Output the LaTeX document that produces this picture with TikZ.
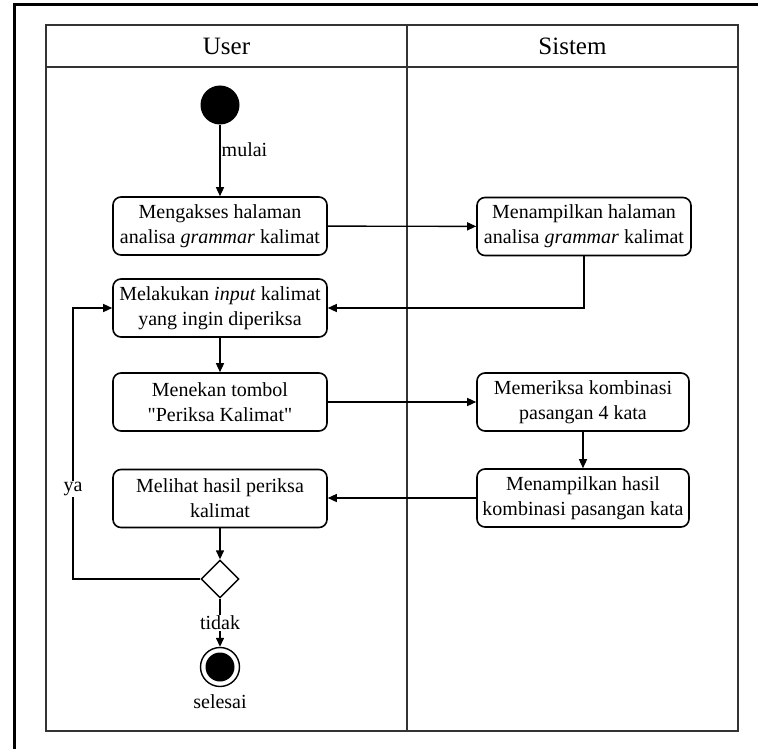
\documentclass[tikz,border=0pt]{standalone}
\usepackage{fontspec}
\setmainfont{Liberation Serif}
% same face without TeX ligatures, for straight double quotes
\newfontfamily\straightq{Liberation Serif}
\newcommand{\dq}{{\straightq"}}
\usetikzlibrary{shapes.geometric,arrows.meta}
\begin{document}
\begin{tikzpicture}[x=1pt,y=-1pt,
  txt/.style={font=\fontsize{20}{25}\selectfont},
  action/.style={txt, draw, line width=1.6pt, rounded corners=8pt, fill=white,
    minimum width=214pt, minimum height=58pt, align=center, inner sep=2pt},
  lane/.style={draw=black!80, line width=2pt},
  flow/.style={line width=1.4pt, -{Triangle[length=9pt,width=8pt]}},
  lbl/.style={txt, inner sep=1pt},
  decision/.style={diamond, draw, line width=1.4pt, fill=white, inner sep=0pt,
    minimum width=38pt, minimum height=38pt, shape aspect=1}
]
\useasboundingbox (0,0) rectangle (758,749);

% outer page frame
\draw[line width=3pt] (14,749) -- (14,5) -- (758,5);

% swimlanes
\draw[lane] (46,25) rectangle (738,731);
\draw[lane] (46,67) -- (738,67);
\draw[lane] (407,25) -- (407,731);
\node[font=\fontsize{25}{30}\selectfont] (hUser) at (226.5,46) {User};
\node[font=\fontsize{25}{30}\selectfont] (hSistem) at (572.5,46) {Sistem};

% start
\node[circle, fill=black, minimum size=39pt, inner sep=0pt] (start) at (220,105) {};

% user actions
\node[action] (b1) at (220,226) {Mengakses halaman\\analisa \textit{grammar} kalimat};
\node[action] (b2) at (220,308) {Melakukan \textit{input} kalimat\\yang ingin diperiksa};
\node[action] (b3) at (220,402) {Menekan tombol\\\dq Periksa Kalimat\dq};
\node[action] (b4) at (220,498.5) {Melihat hasil periksa\\kalimat};

% system actions
\node[action] (s1) at (584,226.5) {Menampilkan halaman\\analisa \textit{grammar} kalimat};
\node[action, minimum width=212pt] (s2) at (583,402) {Memeriksa kombinasi\\pasangan 4 kata};
\node[action, minimum width=212pt] (s3) at (583,498) {Menampilkan hasil\\kombinasi pasangan kata};

% decision and end
\node[decision] (d) at (220,579) {};
\node[circle, draw, line width=1.4pt, minimum size=39pt, inner sep=0pt] (end) at (220,667) {};
\fill (end.center) circle (14.5);
\node[lbl] (selesai) at (220,702) {selesai};

% flows
\draw[flow] (start) -- node[lbl, pos=0.35, right] {mulai} (b1);
\draw[flow] (b1) -- (s1);
\draw[flow] (s1.south) |- (b2.east);
\draw[flow] (b2) -- (b3);
\draw[flow] (b3.east) -- (s2.west |- b3.east);
\draw[flow] (s2.south) -- (s3.north -| s2.south);
\draw[flow] (s3.west) -- (b4.east |- s3.west);
\draw[flow] (b4) -- (d);
\coordinate (loop) at (73,579);
\draw[flow] (d.west) -- (loop) |- (b2.west);
\node[lbl, fill=white] (ya) at (73,489) {ya};
\draw[flow] (d.south) -- node[lbl, fill=white, midway] {tidak} (end);
\end{tikzpicture}
\end{document}
